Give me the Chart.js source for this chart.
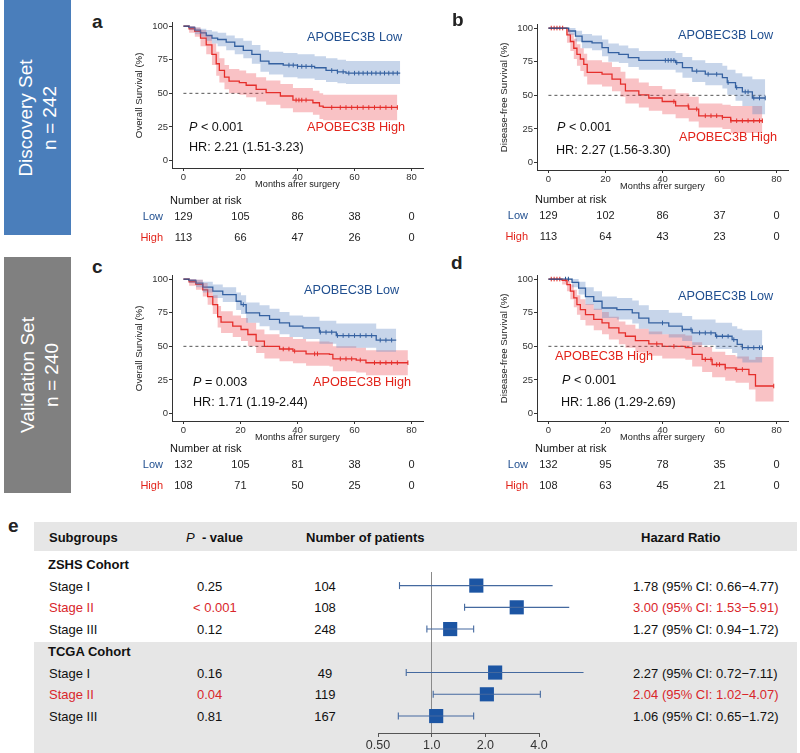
<!DOCTYPE html>
<html>
<head>
<meta charset="utf-8">
<script src="https://cdn.jsdelivr.net/npm/chart.js@4.4.1/dist/chart.umd.min.js"></script>
<style>
  body { margin: 0; background: #fff; }
  #fig { position: relative; width: 800px; height: 753px; overflow: hidden; font-family: "Liberation Sans", Arial, sans-serif; color: #222; }
  #fig canvas { position: absolute; }
  .t { position: absolute; white-space: nowrap; line-height: 1; }
  .side { position: absolute; left: 4px; width: 67px; }
  .side div { position: absolute; text-align: center; color: #fff; font-size: 19px; line-height: 24px; transform: rotate(-90deg); }
  .band { position: absolute; left: 34px; width: 763px; background: #e6e6e6; }
  .lett { font-weight: bold; font-size: 19px; }
</style>
</head>
<body>
<div id="fig">
  <div class="side" style="top:0;height:235px;background:#4a7ebb"><div style="width:235px;height:48px;left:-84px;top:93.5px">Discovery Set<br>n = 242</div></div>
  <div class="side" style="top:257px;height:236px;background:#808080"><div style="width:236px;height:48px;left:-82px;top:94px">Validation Set<br>n = 240</div></div>
  <div class="band" style="top:522px;height:29px"></div>
  <div class="band" style="top:642px;height:111px"></div>
</div>
<script>
// axis ticks
const monthTicks = [0, 20, 40, 60, 80];
const survTicks = [0, 25, 50, 75, 100];
const hrTicks = [0.5, 1, 2, 4];
const hrTickLabels = ['0.50', '1.0', '2.0', '4.0'];
const medianLevel = 50;

// a - overall survival, discovery set
const aLowT  = [0, 2, 4, 6, 8, 10, 12, 15, 18, 21, 24, 27, 30, 35, 40, 46, 50, 54, 57, 76];
const aLowS  = [100, 99, 97, 95, 93, 91, 90, 88, 85, 82, 79, 74, 72, 71, 70, 69, 67, 66, 65, 65];
const aLowUp = [100, 100, 99, 98, 97, 96, 95, 93, 91, 89, 86, 82, 81, 80, 79, 77.5, 76, 75, 74, 74];
const aLowDn = [100, 97, 94, 92, 89, 87, 85, 82, 79, 76, 72, 66, 64, 62, 61, 60, 58.5, 57.5, 57, 57];
const aLowCens = [37, 38.5, 40, 41.5, 43, 45, 52, 54, 56, 58, 60, 61.5, 63, 64.5, 66, 67.5, 69, 70.5, 72, 73.5, 75];
const aHighT  = [0, 2, 4, 6, 8, 10, 11.5, 12.6, 14.4, 16, 19.6, 22, 25.5, 29, 34, 38.4, 45.4, 47.7, 49, 75];
const aHighS  = [100, 98, 96, 91, 86, 79, 72, 67, 62, 59, 58, 56, 53, 50.5, 48, 45, 43, 40.5, 39.5, 39.5];
const aHighUp = [100, 100, 99, 97, 93, 87, 81, 76, 71, 68, 67, 65, 62, 59.5, 57, 54, 52, 50, 49, 49];
const aHighDn = [100, 95, 92, 85, 79, 71, 63, 58, 53, 50, 49, 47, 44, 41.5, 39, 36, 34, 31, 30, 30];
const aHighCens = [39.5, 40.5, 41.5, 43, 52, 55, 57, 59, 61, 63, 65, 67, 69, 71, 73, 75];
const aRiskLow = [129, 105, 86, 38, 0];
const aRiskHigh = [113, 66, 47, 26, 0];

// b - disease-free survival, discovery set
const bLowT  = [0, 5.4, 7.1, 9.5, 11.8, 15.3, 18.8, 21, 24.7, 28, 31.7, 44.6, 47, 50.4, 55, 61, 62.7, 65.6, 68, 71.5, 76];
const bLowS  = [100, 100, 97.8, 94, 90, 89, 85.4, 81.7, 80.5, 78, 76, 74.3, 70.6, 68, 65.7, 63.2, 59.5, 55.8, 52.6, 48, 48];
const bLowUp = [100, 100, 100, 98, 95.5, 94.5, 91.5, 88.5, 87, 85, 83, 81.5, 78.5, 76, 74, 72, 69, 66.5, 64, 62, 62];
const bLowDn = [100, 100, 95, 90, 85, 83.5, 79, 75, 74, 71, 69, 67, 63, 60, 57.5, 55, 50.5, 46, 42, 36, 36];
const bLowCens = [41, 42, 43, 44, 45, 52, 56, 59, 63, 66, 69, 70, 72, 74, 76];
const bHighT  = [0, 6, 6.5, 7.7, 8.9, 10, 11.2, 12.4, 13.6, 18.8, 22.3, 25.3, 27, 31.7, 35.2, 39.9, 44.6, 49.2, 52.7, 61, 63.9, 75];
const bHighS  = [100, 100, 95, 90, 85, 80.5, 77, 73, 67, 65.7, 62, 58.3, 53.3, 50.4, 48, 45.4, 42.2, 39.8, 34.8, 33.6, 31.1, 31.1];
const bHighUp = [100, 100, 99, 96, 92, 88, 85, 81, 76, 74.5, 71, 67.5, 62.5, 59.5, 57, 54.5, 51.5, 49, 44, 43, 42, 42];
const bHighDn = [100, 100, 89, 83, 77, 72, 68, 64, 58, 56.5, 53, 49, 44, 41, 38.5, 36, 33, 30.5, 26, 25, 22, 22];
const bHighCens = [1, 2, 3, 4, 5, 44, 49, 52, 55, 57, 59, 61, 64, 66, 68, 70, 72, 74, 75];
const bRiskLow = [129, 102, 86, 37, 0];
const bRiskHigh = [113, 64, 43, 23, 0];

// c - overall survival, validation set
const cLowT  = [0, 2, 4.4, 6.8, 10.3, 13.8, 18.5, 20.2, 22, 26.7, 30.2, 33.7, 37.2, 41.9, 47.7, 53.6, 67.6, 74.6];
const cLowS  = [100, 99, 97, 94, 91, 88.4, 83.5, 81, 74.8, 72.8, 70, 67.4, 65, 63.7, 60.5, 58, 54.6, 54.6];
const cLowUp = [100, 100, 99.5, 98, 96, 94, 90, 88, 82.5, 80.5, 78, 75.5, 73, 72, 69, 67, 63, 63];
const cLowDn = [100, 97, 94, 90, 86, 83, 77, 74, 67.5, 65, 62, 59, 57, 55.5, 52, 49, 46, 46];
const cLowCens = [21, 48, 50, 52, 54, 56, 58, 60, 62, 64, 66, 69, 71, 73];
const cHighT  = [0, 2, 4.4, 6.8, 8.5, 10.3, 12, 13.2, 17.3, 20.2, 22.6, 25.5, 28.4, 33.7, 38.4, 43, 51.2, 52.4, 60.6, 64, 78.7];
const cHighS  = [100, 98, 96, 92, 87, 81, 72, 68, 65, 62.5, 58.8, 53.8, 50, 48, 46.4, 44.4, 44, 40.7, 39.8, 37.8, 37.8];
const cHighUp = [100, 100, 99.5, 97, 93, 88, 80, 76, 73, 71, 67.5, 62.5, 59, 57, 55.5, 53.5, 53, 50, 49, 47, 47];
const cHighDn = [100, 95, 92, 87, 81, 74, 64, 60, 57, 54, 50, 45, 41, 39, 37.5, 35.5, 35, 31.5, 30.5, 28.5, 28.5];
const cHighCens = [35, 37, 39, 46, 47, 55, 57, 59, 62, 67, 69, 71, 73, 75, 78.7];
const cRiskLow = [132, 105, 81, 38, 0];
const cRiskHigh = [108, 71, 50, 25, 0];

// d - disease-free survival, validation set
const dLowT  = [0, 6, 8.3, 10.6, 13, 15.9, 18.8, 24, 29.4, 31.7, 35.2, 42.2, 46.9, 50.4, 58.6, 64.4, 66.2, 68, 75];
const dLowS  = [100, 100, 97.5, 93.3, 87, 83.5, 78.5, 77.3, 74.8, 71, 67.4, 65, 62.5, 60, 57.5, 55, 51.4, 49, 49];
const dLowUp = [100, 100, 100, 98, 94, 91, 87, 86, 84, 80.5, 77, 75, 72.5, 70, 67.5, 65, 63, 62, 62];
const dLowDn = [100, 100, 94, 88.5, 81, 77, 71, 70, 67, 63, 59, 56.5, 54, 51, 48, 45, 41, 38, 38];
const dLowCens = [6, 7, 40, 47, 50, 53, 55, 57, 59, 61, 63, 65, 68, 70, 72, 74, 75];
const dHighT  = [0, 4.8, 6.5, 7.7, 8.9, 10, 11.2, 13, 15.9, 18.8, 21.2, 24.7, 27, 30.5, 35.2, 39.9, 48, 50.4, 53.9, 57.4, 62, 65.6, 70.3, 72.6, 79];
const dHighS  = [100, 99, 95.8, 91, 86, 81, 77.3, 73.6, 70, 67.4, 63.7, 60, 57.5, 54.3, 51.9, 50, 49, 44, 40.3, 36.5, 34, 32.8, 29, 20.5, 20.5];
const dHighUp = [100, 100, 99, 96, 92, 88, 85, 81.5, 78, 75.5, 72, 68.5, 66, 63, 61, 59, 58, 53, 49.5, 46, 43.5, 42.5, 40, 42, 42];
const dHighDn = [100, 96, 91, 85, 79, 73.5, 69.5, 65.5, 62, 59, 55, 51.5, 49, 45.5, 43, 41, 40, 35, 31, 27, 24.5, 23, 18, 9, 9];
const dHighCens = [1, 2, 3, 4, 38, 44, 55, 57, 59, 60, 62, 66, 68, 79];
const dRiskLow = [132, 95, 78, 35, 0];
const dRiskHigh = [108, 63, 45, 21, 0];

// months where the dashed 50% line stops
const medianEnd = [28, 76, 29.6, 68];

// e - forest plot
const subgroups = ['ZSHS Cohort', 'Stage I', 'Stage II', 'Stage III', 'TCGA Cohort', 'Stage I', 'Stage II', 'Stage III'];
const pValues  = [null, '0.25', '< 0.001', '0.12', null, '0.16', '0.04', '0.81'];
const patients = [null, 104, 108, 248, null, 49, 119, 167];
const hr   = [null, 1.78, 3.00, 1.27, null, 2.27, 2.04, 1.06];
const hrLo = [null, 0.66, 1.53, 0.94, null, 0.72, 1.02, 0.65];
const hrHi = [null, 4.77, 5.91, 1.72, null, 7.11, 4.07, 1.72];

const blue = '#1f4e8f', red = '#e2231a', sigRed = '#d9262b';
const blueBand = 'rgba(95,135,195,0.35)', redBand = 'rgba(238,70,80,0.33)';
Chart.defaults.font.family = '"Liberation Sans", Arial, sans-serif';

const fig = document.getElementById('fig');
function put(html, x, y, style, anchor) {
  const d = document.createElement('div');
  d.className = 't';
  d.innerHTML = html;
  d.style.left = x + 'px';
  d.style.top = y + 'px';
  if (style) d.style.cssText += style;
  const ax = anchor === 'c' ? '-50%' : anchor === 'r' ? '-100%' : '0';
  d.style.transform = 'translate(' + ax + ',-50%)';
  fig.appendChild(d);
  return d;
}
const pts = (t, s) => t.map((x, i) => ({x: x, y: s[i]}));
function survAt(t, times, surv) {
  let v = surv[0];
  times.forEach((tt, i) => { if (tt <= t) v = surv[i]; });
  return v;
}

const panels = [
  {key: 'a', left: 172, top: 22, yTitle: 'Overall Survival (%)', med: medianEnd[0],
   low: {t: aLowT, s: aLowS, up: aLowUp, dn: aLowDn, cens: aLowCens}, high: {t: aHighT, s: aHighS, up: aHighUp, dn: aHighDn, cens: aHighCens},
   riskLow: aRiskLow, riskHigh: aRiskHigh, riskY: 200,
   letter: [92, 20.5], lowLbl: [307, 37], highLbl: [307, 127], pLbl: [189, 127], hrLbl: [189, 147],
   p: '<i>P</i> &lt; 0.001', hrText: 'HR: 2.21 (1.51-3.23)'},
  {key: 'b', left: 537, top: 24, yTitle: 'Disease-free Survival (%)', med: medianEnd[1],
   low: {t: bLowT, s: bLowS, up: bLowUp, dn: bLowDn, cens: bLowCens}, high: {t: bHighT, s: bHighS, up: bHighUp, dn: bHighDn, cens: bHighCens},
   riskLow: bRiskLow, riskHigh: bRiskHigh, riskY: 199,
   letter: [452, 19], lowLbl: [678, 35], highLbl: [679, 137], pLbl: [557, 127], hrLbl: [556, 150],
   p: '<i>P</i> &lt; 0.001', hrText: 'HR: 2.27 (1.56-3.30)'},
  {key: 'c', left: 172, top: 275, yTitle: 'Overall Survival (%)', med: medianEnd[2],
   low: {t: cLowT, s: cLowS, up: cLowUp, dn: cLowDn, cens: cLowCens}, high: {t: cHighT, s: cHighS, up: cHighUp, dn: cHighDn, cens: cHighCens},
   riskLow: cRiskLow, riskHigh: cRiskHigh, riskY: 448,
   letter: [92, 266], lowLbl: [304, 290], highLbl: [313, 382], pLbl: [193, 382], hrLbl: [193, 402],
   p: '<i>P</i> = 0.003', hrText: 'HR: 1.71 (1.19-2.44)'},
  {key: 'd', left: 537, top: 275, yTitle: 'Disease-free Survival (%)', med: medianEnd[3],
   low: {t: dLowT, s: dLowS, up: dLowUp, dn: dLowDn, cens: dLowCens}, high: {t: dHighT, s: dHighS, up: dHighUp, dn: dHighDn, cens: dHighCens},
   riskLow: dRiskLow, riskHigh: dRiskHigh, riskY: 448,
   letter: [451, 262], lowLbl: [678, 296], highLbl: [555, 356], pLbl: [562, 380], hrLbl: [561, 402],
   p: '<i>P</i> &lt; 0.001', hrText: 'HR: 1.86 (1.29-2.69)'}
];

function axisStyle() {
  return {
    grid: {drawOnChartArea: false, tickLength: 3, tickColor: '#333'},
    border: {color: '#333', width: 1},
    ticks: {font: {size: 9.5}, color: '#333', padding: 1, maxRotation: 0, autoSkip: false}
  };
}

function drawKM(p) {
  const cv = document.createElement('canvas');
  const cl = p.left - 38, ct = p.top - 6;
  cv.width = 295; cv.height = 174;
  cv.style.left = cl + 'px';
  cv.style.top = ct + 'px';
  fig.appendChild(cv);

  const ln = (data, color, extra) => Object.assign({data: data, borderColor: color, borderWidth: 1.3, stepped: true, pointRadius: 0, fill: false}, extra || {});
  const cens = (c, color) => ({
    data: c.cens.map(t => ({x: t, y: survAt(t, c.t, c.s)})),
    showLine: false, pointStyle: 'line', rotation: 90, pointRadius: 2.3,
    borderColor: color, pointBorderColor: color, pointBorderWidth: 1
  });

  const chart = new Chart(cv, {
    type: 'line',
    data: {datasets: [
      ln(pts(p.low.t, p.low.up), 'transparent'),
      ln(pts(p.low.t, p.low.dn), 'transparent', {fill: '-1', backgroundColor: blueBand}),
      ln(pts(p.high.t, p.high.up), 'transparent'),
      ln(pts(p.high.t, p.high.dn), 'transparent', {fill: '-1', backgroundColor: redBand}),
      ln([{x: 0, y: medianLevel}, {x: p.med, y: medianLevel}], '#555', {stepped: false, borderWidth: 1, borderDash: [3, 3]}),
      ln(pts(p.low.t, p.low.s), blue),
      ln(pts(p.high.t, p.high.s), red),
      cens(p.low, blue),
      cens(p.high, red)
    ]},
    options: {
      responsive: false, animation: false, devicePixelRatio: 1,
      layout: {padding: {top: 6, right: 6, left: 0, bottom: 0}},
      plugins: {legend: {display: false}, tooltip: {enabled: false}},
      scales: {
        x: Object.assign(axisStyle(), {
          type: 'linear', min: -4, max: 84,
          afterBuildTicks: s => { s.ticks = monthTicks.map(v => ({value: v})); },
          afterFit: s => { s.height = 22; },
          title: {display: true, text: 'Months afrer surgery', font: {size: 9.2}, color: '#222', padding: 0}
        }),
        y: Object.assign(axisStyle(), {
          type: 'linear', min: -5.5, max: 102.5,
          afterBuildTicks: s => { s.ticks = survTicks.map(v => ({value: v})); },
          afterFit: s => { s.width = 38; },
          title: {display: true, text: p.yTitle, font: {size: 9.7}, color: '#222', padding: 0}
        })
      }
    }
  });

  // annotations
  put(p.key, p.letter[0], p.letter[1], '', 'l').classList.add('lett');
  put('APOBEC3B Low', p.lowLbl[0], p.lowLbl[1], 'font-size:12.7px;color:' + blue);
  put('APOBEC3B High', p.highLbl[0], p.highLbl[1], 'font-size:12.7px;color:' + red);
  put(p.p, p.pLbl[0], p.pLbl[1], 'font-size:12.6px;color:#111');
  put(p.hrText, p.hrLbl[0], p.hrLbl[1], 'font-size:12.6px;color:#111');

  // number at risk table, columns follow the x scale
  const xs = chart.scales.x;
  put('Number at risk', p.left - 2, p.riskY, 'font-size:11px;color:#111');
  put('Low', p.left - 9, p.riskY + 16, 'font-size:11px;color:' + blue, 'r');
  put('High', p.left - 9, p.riskY + 37, 'font-size:11px;color:' + red, 'r');
  monthTicks.forEach((m, i) => {
    const x = cl + xs.getPixelForValue(m);
    put(String(p.riskLow[i]), x, p.riskY + 16, 'font-size:11px;color:#222', 'c');
    put(String(p.riskHigh[i]), x, p.riskY + 37, 'font-size:11px;color:#222', 'c');
  });
}
panels.forEach(drawKM);

// forest plot (e)
const fcv = document.createElement('canvas');
const fl = 340, ft = 560;
fcv.width = 280; fcv.height = 193;
fcv.style.left = fl + 'px';
fcv.style.top = ft + 'px';
fig.appendChild(fcv);

const rows = subgroups.map((s, i) => i).filter(i => hr[i] !== null);
const ciSets = rows.map(i => ({
  data: [{x: hrLo[i], y: i}, {x: hrHi[i], y: i}],
  showLine: true, borderColor: '#44699f', borderWidth: 1.1,
  pointStyle: 'line', rotation: 90, pointRadius: 3.5, pointBorderColor: '#44699f', pointBorderWidth: 1.1,
  clip: false
}));
const squares = {
  data: rows.map(i => ({x: hr[i], y: i})),
  pointStyle: 'rect', pointRadius: 10, backgroundColor: '#1c55a3', borderColor: '#1c55a3', borderWidth: 0,
  clip: false
};
const forest = new Chart(fcv, {
  type: 'scatter',
  data: {datasets: ciSets.concat([squares])},
  options: {
    responsive: false, animation: false, devicePixelRatio: 1,
    layout: {padding: {left: 38, right: 81, top: 12, bottom: 0}},
    plugins: {legend: {display: false}, tooltip: {enabled: false}},
    scales: {
      x: {
        type: 'logarithmic', min: 0.5, max: 4,
        afterBuildTicks: s => { s.ticks = hrTicks.map(v => ({value: v})); },
        afterFit: s => { s.height = 20; },
        ticks: {callback: (v, i) => hrTickLabels[i], font: {size: 12.5}, color: '#333', padding: 1, autoSkip: false, maxRotation: 0},
        grid: {color: c => (c.tick && c.tick.value === 1) ? '#8a8a8a' : 'rgba(0,0,0,0)', tickColor: '#555', tickLength: 4, lineWidth: 1},
        border: {color: '#555'}
      },
      y: {type: 'linear', display: false, reverse: true, min: 0.375, max: 7.78}
    }
  }
});

// table text for e, rows follow the forest y scale
const fy = forest.scales.y;
put('e', 8, 525, '', 'l').classList.add('lett');
const hdr = 'font-size:13px;font-weight:bold;color:#111';
put('Subgroups', 49, 537, hdr);
put('<i style="font-weight:normal">P</i>&nbsp; - value', 186, 537, hdr);
put('Number of patients', 306, 537, hdr);
put('Hazard Ratio', 641, 537, hdr);
subgroups.forEach((name, i) => {
  const y = ft + fy.getPixelForValue(i);
  if (hr[i] === null) {
    put(name, 48, y, 'font-size:13px;font-weight:bold;color:#111');
    return;
  }
  const sig = parseFloat(pValues[i].replace('<', '')) < 0.05;
  const col = sig ? sigRed : '#111';
  put(name, 49, y, 'font-size:13px;color:' + col);
  put(pValues[i], pValues[i].startsWith('<') ? 193 : 197, y, 'font-size:13px;color:' + col);
  put(String(patients[i]), 325, y, 'font-size:13px;color:#111', 'c');
  put(hr[i].toFixed(2) + ' (95% CI: ' + hrLo[i].toFixed(2) + '\u2212' + hrHi[i].toFixed(2) + ')', 633, y, 'font-size:13px;color:' + col);
});
</script>
</body>
</html>
